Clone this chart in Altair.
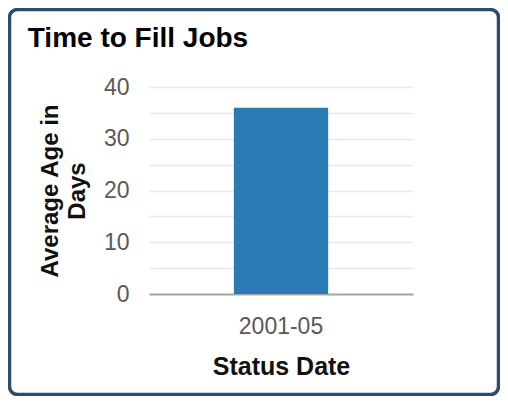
import altair as alt
import pandas as pd

# data
status_dates = ["2001-05"]
avg_age_days = [36]
y_tick_values = [0, 5, 10, 15, 20, 25, 30, 35, 40]

df = pd.DataFrame({"Status Date": status_dates, "Average Age in Days": avg_age_days})

FONT = "Liberation Sans"
base = alt.Chart(df)

card = base.mark_rect(
    fillOpacity=0, stroke="#2f4b6a", strokeWidth=3.5, cornerRadius=8
).encode(
    x=alt.value(-139.5), x2=alt.value(349.5),
    y=alt.value(-77.5), y2=alt.value(307.5),
)

bars = base.mark_bar(color="#2a7ab4").encode(
    x=alt.X(
        "Status Date:N",
        title="Status Date",
        scale=alt.Scale(paddingInner=0, paddingOuter=0.9),
        axis=alt.Axis(
            labelAngle=0, ticks=False, domain=True, domainColor="#a6a6a6",
            domainWidth=2, labelFontSize=23, labelColor="#595959", labelFont=FONT,
            labelPadding=21, titleFontSize=25, titleFont=FONT, titleFontWeight="bold",
            titleColor="#111111", titlePadding=16, grid=False,
        ),
    ),
    y=alt.Y(
        "Average Age in Days:Q",
        title=["Average Age in", "Days"],
        scale=alt.Scale(domain=[0, 40]),
        axis=alt.Axis(
            values=y_tick_values,
            labelExpr="datum.value % 10 == 0 ? datum.label : ''",
            ticks=False, domain=False, grid=True, gridColor="#e8e8f0", gridWidth=1.5,
            labelFontSize=23, labelColor="#595959", labelFont=FONT, labelPadding=20,
            titleFontSize=24, titleFont=FONT, titleFontWeight="bold", titleColor="#111111",
            titlePadding=14, titleLineHeight=27,
        ),
    ),
)

chart = alt.layer(card, bars).properties(
    width=264,
    height=207,
    title=alt.TitleParams(
        "Time to Fill Jobs", anchor="start", frame="bounds", font=FONT,
        fontSize=28, fontWeight="bold", color="#000000", dx=20, dy=49,
    ),
    padding={"left": 141, "top": 79, "right": 87, "bottom": 102},
    autosize="none",
).configure_view(stroke=None)

chart.save("out.html", embed_options={"renderer": "svg", "actions": False})
